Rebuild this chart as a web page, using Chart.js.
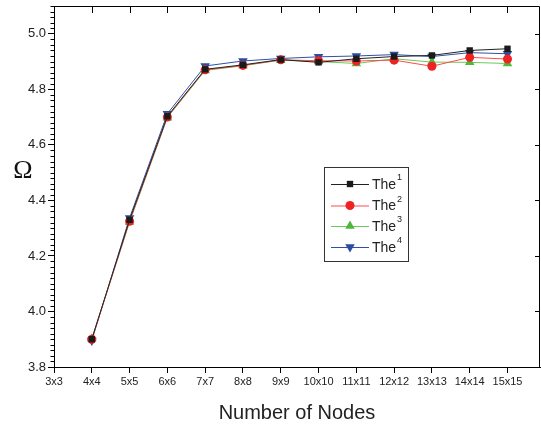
<!DOCTYPE html>
<html><head><meta charset="utf-8">
<script src="https://cdn.jsdelivr.net/npm/chart.js@4/dist/chart.umd.min.js"></script>
<style>html,body{margin:0;padding:0;background:#fff}#wrap{width:541px;height:425px}</style>
</head><body><div id="wrap"><canvas id="c" width="541" height="425"></canvas></div>
<script>
const categories = ['3x3','4x4','5x5','6x6','7x7','8x8','9x9','10x10','11x11','12x12','13x13','14x14','15x15'];
const dataCategories = ['4x4','5x5','6x6','7x7','8x8','9x9','10x10','11x11','12x12','13x13','14x14','15x15'];
const the1 = [3.900, 4.330, 4.703, 4.872, 4.888, 4.907, 4.897, 4.910, 4.918, 4.922, 4.940, 4.946];
const the2 = [3.900, 4.325, 4.700, 4.870, 4.886, 4.906, 4.903, 4.902, 4.905, 4.883, 4.915, 4.909];
const the3 = [3.902, 4.322, 4.698, 4.868, 4.885, 4.905, 4.900, 4.893, 4.910, 4.898, 4.897, 4.893];
const the4 = [3.895, 4.337, 4.712, 4.884, 4.902, 4.911, 4.917, 4.920, 4.925, 4.918, 4.932, 4.928];
const seriesNames = ['1','2','3','4'];
const yTicks = [3.8, 4.0, 4.2, 4.4, 4.6, 4.8, 5.0];

const toPts = arr => arr.map((v,i)=>({x: categories.indexOf(dataCategories[i]), y: v}));

const styles = [
  {line:'#222222', pt:'#1a1a1a', style:'rect', rot:0, r:4.5},
  {line:'#ff4a4a', pt:'#ee2222', style:'circle', rot:0, r:4.5},
  {line:'#6cc85a', pt:'#4fb83c', style:'triangle', rot:0, r:5.5},
  {line:'#2e50a8', pt:'#2a4d9f', style:'triangle', rot:180, r:5.5}
];
const allSeries = [the1, the2, the3, the4];

const datasets = allSeries.map((s,i)=>({
  label: 'The' + seriesNames[i],
  data: toPts(s),
  borderColor: styles[i].line,
  backgroundColor: styles[i].pt,
  pointBackgroundColor: styles[i].pt,
  pointBorderColor: styles[i].pt,
  pointBorderWidth: 0,
  borderWidth: 1,
  pointStyle: styles[i].style,
  pointRotation: styles[i].rot,
  pointRadius: styles[i].r,
  tension: 0
}));

const framePlugin = {
  id: 'frame',
  afterDraw(chart) {
    const ctx = chart.ctx, a = chart.chartArea;
    const xs = chart.scales.x, ys = chart.scales.y;
    ctx.save();
    ctx.strokeStyle = '#000'; ctx.lineWidth = 1;
    ctx.beginPath();
    ctx.rect(Math.round(a.left)+0.5, Math.round(a.top)+0.5, Math.round(a.right-a.left)-1, Math.round(a.bottom-a.top));
    ctx.stroke();
    ctx.beginPath();
    for (let i=0;i<categories.length;i++){
      const px = Math.round(xs.getPixelForValue(i))+0.5;
      ctx.moveTo(px, a.top); ctx.lineTo(px, a.top+7);
    }
    yTicks.forEach(v=>{
      const py = Math.round(ys.getPixelForValue(v))+0.5;
      ctx.moveTo(a.right-1, py); ctx.lineTo(a.right-5, py);
    });
    for (let k=0;k<=65;k++){
      const v = 3.8 + k*0.02;
      if (k%10===0) continue;
      const py = Math.round(ys.getPixelForValue(v))+0.5;
      ctx.moveTo(a.left, py); ctx.lineTo(a.left-3.5, py);
    }
    ctx.stroke();
    ctx.fillStyle = '#111';
    ctx.font = '26px "Liberation Serif", serif';
    ctx.textAlign = 'center'; ctx.textBaseline = 'middle';
    ctx.fillText('Ω', 23, 171);
    const lx = 324, ly = 167, lw = 84, lh = 94;
    ctx.strokeStyle = '#333'; ctx.lineWidth = 1;
    ctx.strokeRect(lx+0.5, ly+0.5, lw, lh);
    const rows = [184, 205.5, 226, 247];
    chart.data.datasets.forEach((d,i)=>{
      const y = rows[i];
      ctx.strokeStyle = d.borderColor; ctx.lineWidth = 1;
      ctx.beginPath(); ctx.moveTo(331, y+0.5); ctx.lineTo(369, y+0.5); ctx.stroke();
      ctx.fillStyle = d.pointBackgroundColor;
      ctx.strokeStyle = d.pointBorderColor;
      Chart.helpers.drawPoint(ctx, {pointStyle: d.pointStyle, rotation: d.pointRotation, radius: d.pointRadius, borderWidth: 0}, 350, y);
      ctx.fillStyle = '#222';
      ctx.textAlign = 'left'; ctx.textBaseline = 'middle';
      ctx.font = '14px "Liberation Sans", Arial, sans-serif';
      ctx.fillText('The', 372, y+1);
      const w = ctx.measureText('The').width;
      ctx.font = '9px "Liberation Sans", Arial, sans-serif';
      ctx.fillText(seriesNames[i], 372 + w + 1, y - 6);
    });
    ctx.restore();
  }
};

new Chart(document.getElementById('c'), {
  type: 'line',
  data: { datasets },
  options: {
    responsive: false,
    animation: false,
    events: [],
    layout: { autoPadding: false, padding: { top: 6, right: 1, left: 0, bottom: 0 } },
    plugins: { legend: { display: false }, tooltip: { enabled: false } },
    scales: {
      x: {
        type: 'linear', min: 0, max: 12.86,
        afterBuildTicks: s => { s.ticks = categories.map((c,i)=>({value:i})); },
        afterFit: s => { s.height = 58; s.paddingLeft = 0; s.paddingRight = 0; },
        ticks: { callback: v => categories[v], color: '#222', font: { size: 11, family: '"Liberation Sans", Arial, sans-serif' }, padding: 2, maxRotation: 0, autoSkip: false },
        grid: { drawOnChartArea: false, tickLength: 6, color: '#000', tickColor: '#000' },
        border: { display: true, color: '#000', width: 1 },
        title: { display: true, text: 'Number of Nodes', color: '#222', font: { size: 20, family: '"Liberation Sans", Arial, sans-serif' }, padding: { top: 6, bottom: 0 } }
      },
      y: {
        type: 'linear', min: 3.8, max: 5.1,
        afterBuildTicks: s => { s.ticks = yTicks.map(v=>({value:v})); },
        afterFit: s => { s.width = 54; s.paddingTop = 0; s.paddingBottom = 0; },
        ticks: { callback: v => v.toFixed(1), color: '#222', font: { size: 13, family: '"Liberation Sans", Arial, sans-serif' }, padding: 2 },
        grid: { drawOnChartArea: false, tickLength: 6, color: '#000', tickColor: '#000' },
        border: { display: true, color: '#000', width: 1 }
      }
    }
  },
  plugins: [framePlugin]
});
</script>
</body></html>
